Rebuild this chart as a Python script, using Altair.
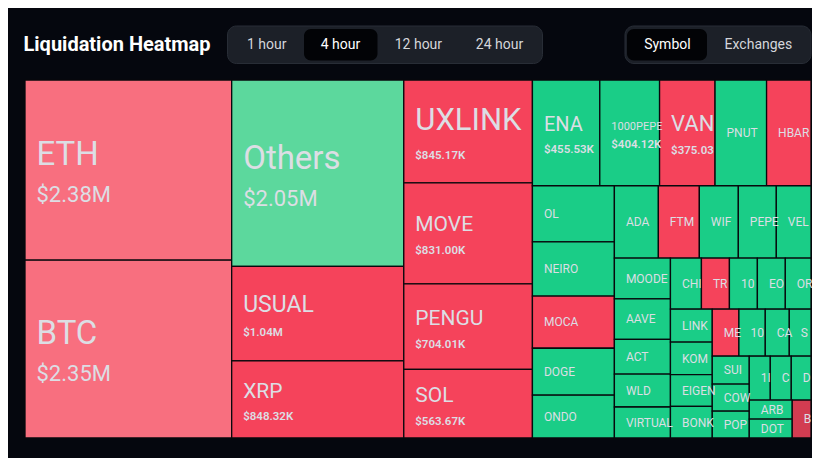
import altair as alt
import pandas as pd

# ---------------- data ----------------
symbols = ["ETH", "BTC", "Others", "USUAL", "XRP", "UXLINK", "MOVE", "PENGU", "SOL",
           "ENA", "1000PEPE", "VANA", "PNUT", "HBAR",
           "OL", "NEIRO", "MOCA", "DOGE", "ONDO",
           "ADA", "FTM", "WIF", "PEPE", "VELO",
           "MOODENG", "AAVE", "ACT", "WLD", "VIRTUAL",
           "CHILLGUY", "TRX", "1000SATS", "EOS", "ORDI",
           "LINK", "KOMA", "EIGEN", "BONK",
           "ME", "1000RATS", "CAKE", "SAND",
           "SUI", "COW", "POPCAT",
           "1INCH", "CTK", "DOGS",
           "ARB", "DOT",
           "BCH"]

# liquidation value in thousands of USD
liq_k = [2380, 2350, 2050, 1040, 848.32, 845.17, 831.00, 704.01, 563.67,
         455.53, 404.12, 375.03, 348.4, 300.3,
         294.1, 283.6, 273.7, 245.5, 224.6,
         203.4, 189.5, 180.3, 175.7, 160.4,
         146.1, 145.0, 124.3, 118.2, 111.0,
         101.1, 91.3, 91.2, 91.1, 83.8,
         88.0, 87.0, 85.0, 84.5,
         80.0, 79.2, 72.1, 65.2,
         66.2, 63.9, 63.5,
         59.1, 58.9, 55.4,
         52.2, 52.0,
         45.5]

heat = ["long_light", "long_light", "short_light", "long", "long", "long", "long", "long", "long",
        "short", "short", "long", "short", "long",
        "short", "short", "long", "short", "short",
        "short", "long", "short", "short", "short",
        "short", "short", "short", "short", "short",
        "short", "long", "short", "short", "short",
        "short", "short", "short", "short",
        "long", "short", "short", "short",
        "short", "short", "short",
        "short", "short", "short",
        "short", "short",
        "long_dark"]

# squarified rows of the treemap (number of tiles per row, in order)
row_sizes = [2, 3, 4, 5, 5, 5, 5, 5, 4, 4, 3, 3, 2, 1]

heat_domain = ["long_light", "short_light", "long", "short", "long_dark"]
heat_range = ["#f86f7f", "#5cd89d", "#f5435b", "#1acd87", "#d23c51"]

W, H = 786, 358


def squarified_rows(vals, sizes, width, height):
    rects = []
    x0, y0, x1, y1 = 0.0, 0.0, float(width), float(height)
    remaining = float(sum(vals))
    i = 0
    for n in sizes:
        row = vals[i:i + n]
        s = float(sum(row))
        dx, dy = x1 - x0, y1 - y0
        if dx < dy:
            hh = dy * s / remaining
            cx = x0
            for v in row:
                ww = dx * v / s
                rects.append((cx, y0, cx + ww, y0 + hh))
                cx += ww
            y0 += hh
        else:
            ww = dx * s / remaining
            cy = y0
            for v in row:
                hh = dy * v / s
                rects.append((x0, cy, x0 + ww, cy + hh))
                cy += hh
            x0 += ww
        remaining -= s
        i += n
    return rects


def fmt(vk):
    if vk >= 1000:
        return f"${vk / 1000:.2f}M"
    return f"${vk:.2f}K"


name_size_override = {"UXLINK": 31, "USUAL": 23, "VANA": 22, "1000PEPE": 11, "ENA": 20}

rects = squarified_rows(liq_k, row_sizes, W, H)
records = []
for sym, v, tone, (x0, y0, x1, y1) in zip(symbols, liq_k, heat, rects):
    w, h = x1 - x0, y1 - y0
    cy = (y0 + y1) / 2
    show_val = w >= 55 and h >= 65
    big = h > 150
    if big:
        fs1 = 33
    elif show_val:
        fs1 = 21
    else:
        fs1 = 12
    fs1 = name_size_override.get(sym, fs1)
    fs2 = 22 if big else 11.5
    if show_val:
        cap1, cap2 = 0.72 * fs1, 0.72 * fs2
        gap = 0.55 * fs1 + 3
        top = cy - (cap1 + gap + cap2) / 2 + 2
        name_y = top + cap1
        val_y = name_y + gap + cap2
    else:
        name_y = cy + 0.36 * fs1
        val_y = cy
    records.append(dict(
        symbol=sym, value=v, heat=tone, x0=x0, x1=x1, y0=y0, y1=y1,
        tx=x0 + 11.5, name_y=name_y, val_y=val_y, fs_name=fs1, fs_val=fs2,
        lim=max(w - 8, 10), label=fmt(v),
        tier=("big" if (show_val and big) else ("small" if show_val else "none")),
    ))
df = pd.DataFrame(records)

xs = alt.Scale(domain=[0, W], nice=False, zero=False)
ys = alt.Scale(domain=[0, H], nice=False, zero=False, reverse=True)

base = alt.Chart(df)

cells = base.mark_rect(stroke="#07090d", strokeWidth=1.3).encode(
    x=alt.X("x0:Q", scale=xs, axis=None),
    x2="x1:Q",
    y=alt.Y("y0:Q", scale=ys, axis=None),
    y2="y1:Q",
    color=alt.Color("heat:N", scale=alt.Scale(domain=heat_domain, range=heat_range), legend=None),
    tooltip=["symbol:N", "label:N"],
)

label_color = "#dcdee4"
cut = "\u200b"

names = base.mark_text(align="left", baseline="alphabetic", font="Roboto",
                       color=label_color, limit={"expr": "datum.lim"}, ellipsis=cut).encode(
    x=alt.X("tx:Q", scale=xs, axis=None),
    y=alt.Y("name_y:Q", scale=ys, axis=None),
    size=alt.Size("fs_name:Q", scale=None, legend=None),
    text="symbol:N",
)

vals_big = base.transform_filter(alt.datum.tier == "big").mark_text(
    align="left", baseline="alphabetic", font="Roboto", color=label_color,
    limit={"expr": "datum.lim"}, ellipsis=cut).encode(
    x=alt.X("tx:Q", scale=xs, axis=None),
    y=alt.Y("val_y:Q", scale=ys, axis=None),
    size=alt.Size("fs_val:Q", scale=None, legend=None),
    text="label:N",
)

vals_small = base.transform_filter(alt.datum.tier == "small").mark_text(
    align="left", baseline="alphabetic", font="Roboto", fontWeight=600, color=label_color,
    limit={"expr": "datum.lim"}, ellipsis=cut).encode(
    x=alt.X("tx:Q", scale=xs, axis=None),
    y=alt.Y("val_y:Q", scale=ys, axis=None),
    size=alt.Size("fs_val:Q", scale=None, legend=None),
    text="label:N",
)

# ---------------- header controls ----------------
one = pd.DataFrame({"k": [0]})


def box(xa, xb, ya, yb, fill, r, stroke=None):
    kw = dict(fill=fill, cornerRadius=r)
    if stroke:
        kw.update(stroke=stroke, strokeWidth=1)
    return alt.Chart(one).mark_rect(**kw).encode(
        x=alt.value(xa), x2=alt.value(xb), y=alt.value(ya), y2=alt.value(yb))


def label(txt, xv, yv, size, color, weight=400, align="center"):
    return alt.Chart(one).mark_text(text=txt, font="Roboto", fontSize=size, color=color,
                                    fontWeight=weight, align=align, baseline="middle").encode(
        x=alt.value(xv), y=alt.value(yv))


header_y = -35
tabs_time = ["1 hour", "4 hour", "12 hour", "24 hour"]
tabs_time_x = [241.7, 315.5, 393.4, 474.5]
tabs_mode = ["Symbol", "Exchanges"]
tabs_mode_x = [642.4, 733.4]

chrome = [
    label("Liquidation Heatmap", -1.5, header_y, 20, "#ffffff", weight=700, align="left"),
    box(202.5, 517.5, -54, -16.5, "#1c2028", 9, stroke="#282d36"),
    box(279, 352.5, -51, -19.5, "#020306", 7),
    box(600, 786, -54, -16.5, "#1c2028", 9, stroke="#282d36"),
    box(602, 682, -51, -19.5, "#020306", 7),
]
for t, xv in zip(tabs_time, tabs_time_x):
    chrome.append(label(t, xv, header_y, 14, "#ffffff" if t == "4 hour" else "#d4d6db"))
for t, xv in zip(tabs_mode, tabs_mode_x):
    chrome.append(label(t, xv, header_y, 14, "#ffffff" if t == "Symbol" else "#d4d6db"))

chart = alt.layer(cells, names, vals_big, vals_small, *chrome).properties(
    width=W, height=H,
    autosize=alt.AutoSizeParams(type="none"),
    padding={"left": 17, "top": 72, "right": 1, "bottom": 20},
    background="#05070e",
).configure_view(stroke=None)

chart.save("out.html", embed_options={"renderer": "svg", "actions": False})
